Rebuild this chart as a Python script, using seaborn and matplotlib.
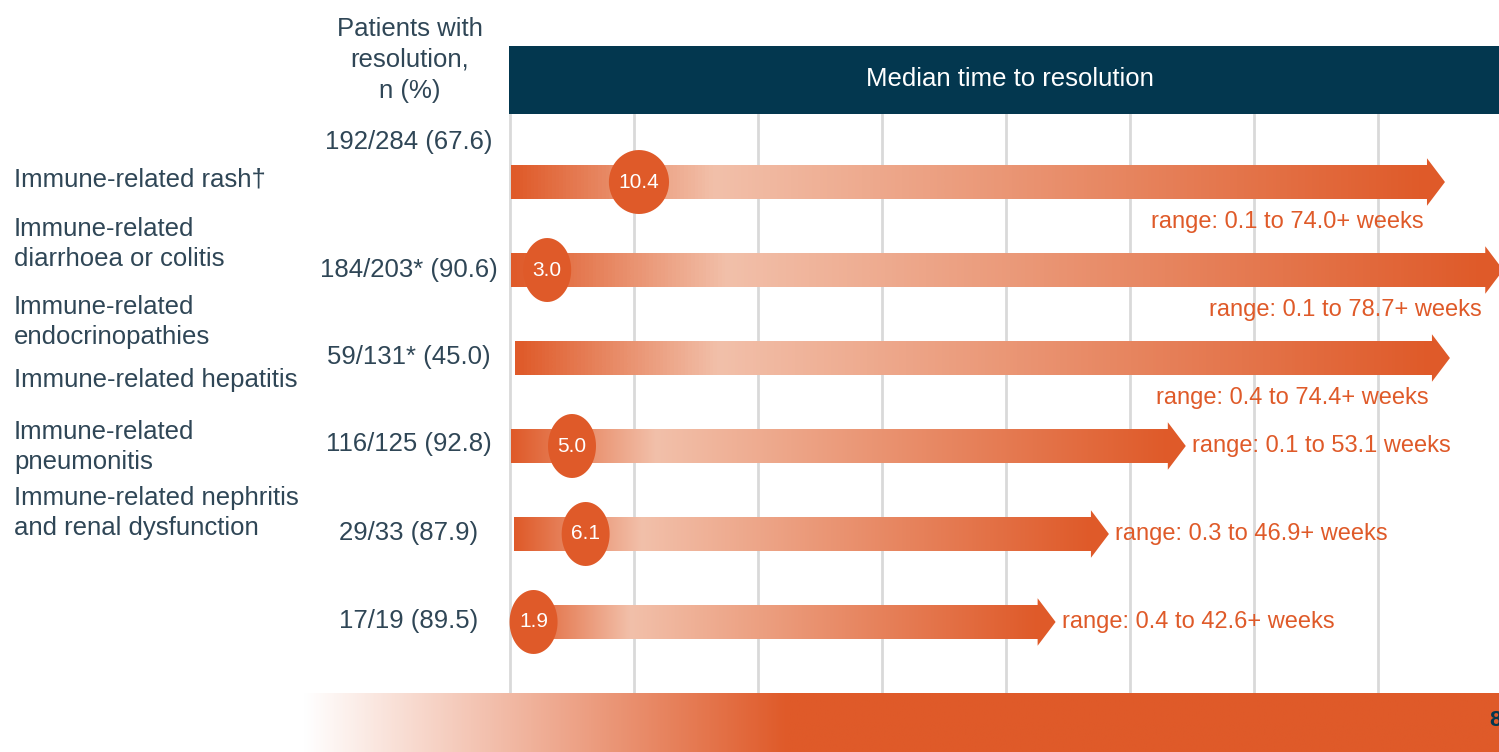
import numpy as np
import pandas as pd
import matplotlib
matplotlib.use("Agg")
import matplotlib.pyplot as plt
import seaborn as sns
from matplotlib.colors import LinearSegmentedColormap
from matplotlib.patches import Polygon, Rectangle
from matplotlib.path import Path

# 数据
categories = ["Immune-related rash†",
              "Immune-related\ndiarrhoea or colitis",
              "Immune-related\nendocrinopathies",
              "Immune-related hepatitis",
              "Immune-related\npneumonitis",
              "Immune-related nephritis\nand renal dysfunction"]
patients = ["192/284 (67.6)", "184/203* (90.6)", "59/131* (45.0)",
            "116/125 (92.8)", "29/33 (87.9)", "17/19 (89.5)"]
median_weeks = [10.4, 3.0, np.nan, 5.0, 6.1, 1.9]
range_low = [0.1, 0.1, 0.4, 0.1, 0.3, 0.4]
range_high = [74.0, 78.7, 74.4, 53.1, 46.9, 42.6]
range_labels = ["range: 0.1 to 74.0+ weeks", "range: 0.1 to 78.7+ weeks",
                "range: 0.4 to 74.4+ weeks", "range: 0.1 to 53.1 weeks",
                "range: 0.3 to 46.9+ weeks", "range: 0.4 to 42.6+ weeks"]

# 颜色 / 布局
ORANGE = "#DF5A29"
LIGHT = "#F2C0AA"
NAVY = "#03374F"
TEXT = "#2F4656"
W, H = 1499, 752
label_y = [180, 244, 322, 380, 447, 513]
count_y = [142, 270, 357, 444, 533, 621]


def fx(px):
    return px / W


def fy(py):
    return 1 - py / H


def ellipse_marker(rx):
    t = np.linspace(0, 2 * np.pi, 65)
    verts = np.column_stack([rx * np.cos(t), np.sin(t)])
    return Path(verts, closed=True)


sns.set_theme(style="whitegrid", rc={"grid.color": "#D9D9D9", "grid.linewidth": 2})
plt.rcParams['font.family'] = ['Liberation Sans', 'DejaVu Sans']

fig = plt.figure(figsize=(W / 100, H / 100), dpi=100)

# 主图区域
ax = fig.add_axes([fx(509), fy(693), fx(1499) - fx(509), fy(114) - fy(693)])
ax.set_axisbelow(True)

cmap = LinearSegmentedColormap.from_list("arrow", [(0, ORANGE), (0.22, LIGHT), (1, ORANGE)])
grad = np.linspace(0, 1, 256).reshape(1, -1)
for i, (lo, hi) in enumerate(zip(range_low, range_high)):
    ax.imshow(grad, cmap=cmap, extent=(lo, hi, i + 0.19, i - 0.19),
              aspect='auto', interpolation='bilinear', zorder=2)
    ax.add_patch(Polygon([(hi - 0.05, i - 0.27), (hi + 1.4, i), (hi - 0.05, i + 0.27)],
                         closed=True, fc=ORANGE, ec='none', zorder=2))
    if hi > 60:
        ax.text(hi - 0.3, i + 0.45, range_labels[i], ha='right', va='center',
                fontsize=17, color=ORANGE, zorder=4)
    else:
        ax.text(hi + 1.9, i, range_labels[i], ha='left', va='center',
                fontsize=17, color=ORANGE, zorder=4)

# 中位数圆点
df = pd.DataFrame({"median": median_weeks, "row": range(len(median_weeks))}).dropna()
df["shape"] = np.where(df["median"] >= 10, "wide", "narrow")
sns.scatterplot(data=df, x="median", y="row", style="shape",
                markers={"wide": ellipse_marker(0.94), "narrow": ellipse_marker(0.75)},
                s=2123, color=ORANGE, linewidth=0, legend=False, ax=ax, zorder=3)
for _, r in df.iterrows():
    ax.text(r["median"], r["row"], f"{r['median']:.1f}", color='white',
            ha='center', va='center', fontsize=15, zorder=4)

ax.set_xlim(-1 / 12.4, 989 / 12.4)
ax.set_ylim(5.807, -0.773)
ax.set_xticks(np.arange(0, 80, 10))
ax.set_yticks([])
ax.grid(axis='x', visible=True)
ax.grid(axis='y', visible=False)
ax.tick_params(length=0, labelbottom=False, labelleft=False)
ax.set_xlabel("")
ax.set_ylabel("")
for s in ax.spines.values():
    s.set_visible(False)

# 标题栏
fig.add_artist(Rectangle((fx(509), fy(114)), fx(1499) - fx(509), fy(46) - fy(114),
                         transform=fig.transFigure, fc=NAVY, ec='none'))
fig.text(fx(1010), fy(79), "Median time to resolution", ha='center', va='center',
         fontsize=18.5, color='white')
fig.text(fx(410), fy(60), "Patients with\nresolution,\nn (%)", ha='center', va='center',
         fontsize=18.5, color=TEXT, linespacing=1.36)

for cat, y in zip(categories, label_y):
    fig.text(fx(14), fy(y), cat, ha='left', va='center', fontsize=18.5,
             color=TEXT, linespacing=1.36)
for p, y in zip(patients, count_y):
    fig.text(fx(409), fy(y), p, ha='center', va='center', fontsize=18.5, color=TEXT)

# 底部渐变条
bax = fig.add_axes([fx(303), 0, 1 - fx(303), fy(693)])
band = np.clip(np.linspace(0, 1, 512) / 0.405, 0, 1).reshape(1, -1)
bax.imshow(band, cmap=LinearSegmentedColormap.from_list("band", ["white", ORANGE]),
           aspect='auto', extent=(0, 1, 0, 1), interpolation='bilinear')
bax.axis('off')
fig.text(fx(1489), fy(721), "8", ha='left', va='center', fontsize=16,
         fontweight='bold', color=NAVY)

fig.savefig("out.png", dpi=100)
